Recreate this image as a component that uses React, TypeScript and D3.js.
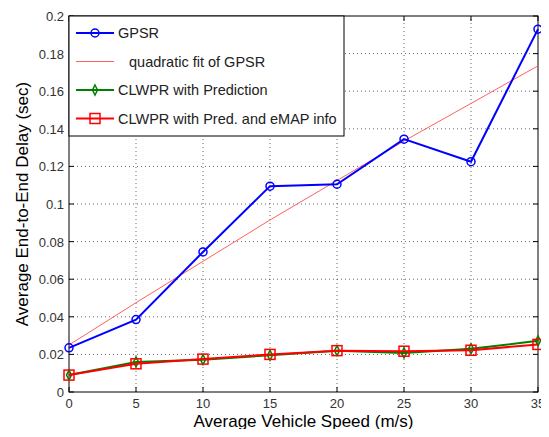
import { useEffect, useRef } from 'react';
import * as d3 from 'd3';

const speeds = [0, 5, 10, 15, 20, 25, 30, 35];
const gpsr = [0.0235, 0.0385, 0.0745, 0.1095, 0.1105, 0.1345, 0.1225, 0.193];
const gpsrFit = [0.025, 0.0475, 0.0695, 0.0915, 0.1125, 0.1335, 0.1535, 0.1735];
const clwprPred = [0.009, 0.016, 0.0172, 0.0195, 0.022, 0.0208, 0.023, 0.0272];
const clwprEmap = [0.009, 0.015, 0.0175, 0.02, 0.022, 0.0217, 0.0222, 0.0253];
const xTicks = [0, 5, 10, 15, 20, 25, 30, 35];
const yTicks = [0, 0.02, 0.04, 0.06, 0.08, 0.1, 0.12, 0.14, 0.16, 0.18, 0.2];

const App = () => {
  const svgRef = useRef<SVGSVGElement>(null);
  const width = 549;
  const height = 437;

  useEffect(() => {
    const svg = d3.select(svgRef.current);
    svg.selectAll('*').remove();

    const margin = { top: 16, right: 11, bottom: 45, left: 69 };
    const x = d3.scaleLinear().domain([0, 35]).range([margin.left, width - margin.right]);
    const y = d3.scaleLinear().domain([0, 0.2]).range([height - margin.bottom, margin.top]);
    const font = '"Liberation Sans", Arial, sans-serif';

    svg.append('rect').attr('width', width).attr('height', height).attr('fill', '#fff');

    // grid
    const grid = svg.append('g').attr('stroke', '#000').attr('stroke-width', 0.6)
      .attr('stroke-dasharray', '1,3');
    xTicks.slice(1, -1).forEach(t => {
      grid.append('line').attr('x1', x(t)).attr('x2', x(t)).attr('y1', y(0)).attr('y2', y(0.2));
    });
    yTicks.slice(1, -1).forEach(t => {
      grid.append('line').attr('x1', x(0)).attr('x2', x(35)).attr('y1', y(t)).attr('y2', y(t));
    });

    // ticks inside
    const tk = svg.append('g').attr('stroke', '#000').attr('stroke-width', 1);
    xTicks.forEach(t => {
      tk.append('line').attr('x1', x(t)).attr('x2', x(t)).attr('y1', y(0)).attr('y2', y(0) - 5);
      tk.append('line').attr('x1', x(t)).attr('x2', x(t)).attr('y1', y(0.2)).attr('y2', y(0.2) + 5);
    });
    yTicks.forEach(t => {
      tk.append('line').attr('x1', x(0)).attr('x2', x(0) + 5).attr('y1', y(t)).attr('y2', y(t));
      tk.append('line').attr('x1', x(35)).attr('x2', x(35) - 5).attr('y1', y(t)).attr('y2', y(t));
    });

    svg.append('rect')
      .attr('x', x(0)).attr('y', y(0.2))
      .attr('width', x(35) - x(0)).attr('height', y(0) - y(0.2))
      .attr('fill', 'none').attr('stroke', '#000').attr('stroke-width', 1);

    // tick labels
    svg.append('g').selectAll('text').data(xTicks).enter().append('text')
      .attr('x', d => x(d)).attr('y', y(0) + 16)
      .attr('text-anchor', 'middle').attr('font-family', font).attr('font-size', 13)
      .attr('fill', '#333').text(d => d);
    svg.append('g').selectAll('text').data(yTicks).enter().append('text')
      .attr('x', x(0) - 5).attr('y', d => y(d) + 5)
      .attr('text-anchor', 'end').attr('font-family', font).attr('font-size', 13)
      .attr('fill', '#333').text(d => d3.format('~g')(d));

    // axis titles
    svg.append('text')
      .attr('x', (x(0) + x(35)) / 2).attr('y', 427)
      .attr('text-anchor', 'middle').attr('font-family', font).attr('font-size', 17)
      .attr('fill', '#000').text('Average Vehicle Speed (m/s)');
    svg.append('text')
      .attr('transform', `translate(28, ${(y(0) + y(0.2)) / 2}) rotate(-90)`)
      .attr('text-anchor', 'middle').attr('font-family', font).attr('font-size', 17)
      .attr('fill', '#000').text('Average End-to-End Delay (sec)');

    const line = d3.line<number>().x((d, i) => x(speeds[i])).y(d => y(d));

    // series
    svg.append('path').datum(gpsrFit).attr('d', line).attr('fill', 'none')
      .attr('stroke', '#ff6060').attr('stroke-width', 1);

    svg.append('path').datum(clwprPred).attr('d', line).attr('fill', 'none')
      .attr('stroke', '#008000').attr('stroke-width', 2);
    svg.append('g').selectAll('path').data(clwprPred).enter().append('path')
      .attr('transform', (d, i) => `translate(${x(speeds[i])},${y(d)})`)
      .attr('d', 'M0,-5L2.5,0L0,5L-2.5,0Z')
      .attr('fill', 'none').attr('stroke', '#008000').attr('stroke-width', 1.5);

    svg.append('path').datum(clwprEmap).attr('d', line).attr('fill', 'none')
      .attr('stroke', '#ff0000').attr('stroke-width', 2);
    svg.append('g').selectAll('rect').data(clwprEmap).enter().append('rect')
      .attr('x', (d, i) => x(speeds[i]) - 5).attr('y', d => y(d) - 5)
      .attr('width', 10).attr('height', 10)
      .attr('fill', 'none').attr('stroke', '#ff0000').attr('stroke-width', 1.5);

    svg.append('path').datum(gpsr).attr('d', line).attr('fill', 'none')
      .attr('stroke', '#0000ff').attr('stroke-width', 2);
    svg.append('g').selectAll('circle').data(gpsr).enter().append('circle')
      .attr('cx', (d, i) => x(speeds[i])).attr('cy', d => y(d)).attr('r', 4)
      .attr('fill', 'none').attr('stroke', '#0000ff').attr('stroke-width', 1.5);

    // legend
    const lg = svg.append('g').attr('transform', `translate(${x(0)}, ${y(0.2)})`);
    lg.append('rect').attr('width', 275).attr('height', 120)
      .attr('fill', '#fff').attr('stroke', '#000').attr('stroke-width', 1);
    const items = [
      { label: 'GPSR', color: '#0000ff', w: 2, marker: 'circle', dx: 0 },
      { label: 'quadratic fit of GPSR', color: '#ff6060', w: 1, marker: 'none', dx: 11 },
      { label: 'CLWPR with Prediction', color: '#008000', w: 2, marker: 'diamond', dx: 0 },
      { label: 'CLWPR with Pred. and eMAP info', color: '#ff0000', w: 2, marker: 'square', dx: 0 },
    ];
    items.forEach((it, i) => {
      const cy = 17 + i * 28.5;
      lg.append('line').attr('x1', 7).attr('x2', 45).attr('y1', cy).attr('y2', cy)
        .attr('stroke', it.color).attr('stroke-width', it.w);
      if (it.marker === 'circle') {
        lg.append('circle').attr('cx', 26).attr('cy', cy).attr('r', 4)
          .attr('fill', 'none').attr('stroke', it.color).attr('stroke-width', 1.5);
      } else if (it.marker === 'diamond') {
        lg.append('path').attr('transform', `translate(26,${cy})`).attr('d', 'M0,-5L2.5,0L0,5L-2.5,0Z')
          .attr('fill', 'none').attr('stroke', it.color).attr('stroke-width', 1.5);
      } else if (it.marker === 'square') {
        lg.append('rect').attr('x', 21).attr('y', cy - 5).attr('width', 10).attr('height', 10)
          .attr('fill', 'none').attr('stroke', it.color).attr('stroke-width', 1.5);
      }
      lg.append('text').attr('x', 49 + it.dx).attr('y', cy + 5)
        .attr('font-family', font).attr('font-size', 14.5).attr('fill', '#222').text(it.label);
    });
  }, []);

  return <svg ref={svgRef} width={width} height={height} style={{ display: 'block', margin: -8 }} />;
};

export default App;
